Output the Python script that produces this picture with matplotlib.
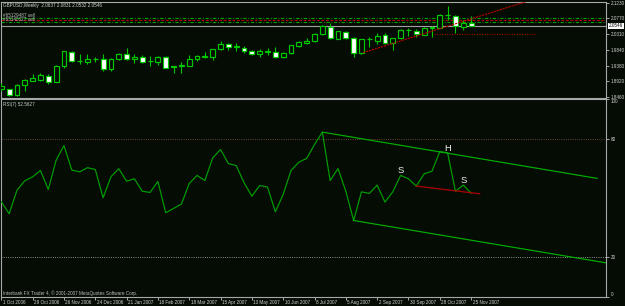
import numpy as np
import matplotlib.pyplot as plt
from matplotlib import transforms as mtransforms

plt.rcParams['font.family'] = ['Liberation Sans', 'DejaVu Sans']

# weekly GBPUSD bars, 1 Oct 2006 .. 25 Nov 2007
opens = [1.8695, 1.8687, 1.8528, 1.8804, 1.8939, 1.8968, 1.9086, 1.8910, 1.9379, 1.9791,
         1.9509, 1.9497, 1.9567, 1.9585, 1.9274, 1.9567, 1.9723, 1.9585, 1.9626, 1.9509,
         1.9497, 1.9626, 1.9362, 1.9371, 1.9379, 1.9567, 1.9626, 1.9626, 1.9860, 2.0008,
         1.9938, 1.9908, 1.9811, 1.9723, 1.9791, 1.9791, 1.9644, 1.9744, 1.9967, 2.0055,
         2.0096, 2.0302, 2.0525, 2.0172, 2.0378, 2.0184, 1.9744, 2.0155, 2.0113, 2.0272,
         2.0037, 2.0184, 2.0419, 2.0399, 2.0290, 2.0478, 2.0496, 2.0860, 2.0839, 2.0507,
         2.0637]
highs = [1.8871, 1.8704, 1.8833, 1.8980, 1.9127, 1.9156, 1.9136, 1.9409, 1.9820, 1.9820,
         1.9714, 1.9723, 1.9644, 1.9723, 1.9591, 1.9744, 1.9899, 1.9723, 1.9694, 1.9656,
         1.9650, 1.9664, 1.9379, 1.9479, 1.9703, 1.9694, 1.9791, 1.9884, 2.0105, 2.0037,
         2.0037, 1.9958, 1.9840, 1.9870, 1.9890, 1.9938, 1.9782, 1.9996, 2.0105, 2.0184,
         2.0331, 2.0575, 2.0625, 2.0413, 2.0399, 2.0213, 2.0172, 2.0231, 2.0331, 2.0331,
         2.0202, 2.0449, 2.0478, 2.0449, 2.0507, 2.0554, 2.0889, 2.1133, 2.0854, 2.0736,
         2.0831]
lows = [1.8636, 1.8489, 1.8489, 1.8645, 1.8930, 1.8939, 1.8833, 1.8892, 1.9303, 1.9488,
        1.9420, 1.9420, 1.9488, 1.9233, 1.9233, 1.9547, 1.9547, 1.9450, 1.9450, 1.9379,
        1.9400, 1.9303, 1.9156, 1.9174, 1.9371, 1.9526, 1.9605, 1.9547, 1.9840, 1.9840,
        1.9811, 1.9761, 1.9694, 1.9644, 1.9694, 1.9597, 1.9614, 1.9723, 1.9920, 2.0017,
        2.0067, 2.0272, 2.0164, 2.0155, 2.0164, 1.9626, 1.9723, 1.9938, 2.0017, 2.0008,
        1.9840, 2.0155, 2.0252, 2.0231, 2.0272, 2.0231, 2.0478, 2.0722, 2.0331, 2.0428,
        2.0532]
closes = [1.8783, 1.8528, 1.8812, 1.8959, 1.9009, 1.9097, 1.8910, 1.9379, 1.9802, 1.9517,
          1.9503, 1.9576, 1.9570, 1.9274, 1.9567, 1.9714, 1.9585, 1.9635, 1.9497, 1.9512,
          1.9626, 1.9321, 1.9335, 1.9409, 1.9576, 1.9664, 1.9664, 1.9860, 2.0008, 1.9929,
          1.9944, 1.9811, 1.9723, 1.9811, 1.9797, 1.9644, 1.9761, 1.9979, 2.0075, 2.0105,
          2.0311, 2.0537, 2.0202, 2.0399, 2.0184, 1.9761, 2.0155, 2.0160, 2.0252, 2.0037,
          2.0184, 2.0428, 2.0425, 2.0311, 2.0478, 2.0525, 2.0868, 2.0855, 2.0531, 2.0634,
          2.0546]
rsi = [48.2, 42.1, 54.0, 58.8, 60.8, 64.0, 54.4, 69.2, 76.6, 64.2,
       63.3, 65.4, 64.5, 50.2, 60.8, 64.9, 58.6, 59.8, 53.5, 52.9,
       58.4, 42.6, 44.8, 47.0, 57.4, 61.5, 58.9, 70.4, 74.6, 67.5,
       66.5, 57.8, 51.0, 56.4, 55.6, 43.1, 51.9, 64.0, 68.2, 70.1,
       77.1, 83.4, 58.9, 65.0, 53.5, 38.7, 53.2, 52.4, 56.6, 48.0,
       53.2, 61.5, 59.8, 56.1, 62.3, 63.6, 73.5, 73.0, 53.5, 56.6,
       52.5627]

date_labels = ['1 Oct 2006', '29 Oct 2006', '26 Nov 2006', '24 Dec 2006', '21 Jan 2007',
               '18 Feb 2007', '18 Mar 2007', '15 Apr 2007', '13 May 2007', '10 Jun 2007',
               '8 Jul 2007', '5 Aug 2007', '2 Sep 2007', '30 Sep 2007', '28 Oct 2007',
               '25 Nov 2007']
price_ticks = [2.1230, 2.0770, 2.0310, 1.9840, 1.9380, 1.8920, 1.8460]
rsi_ticks = [0, 20, 80, 100]

# objects drawn on the chart
order_green = [2.0772, 2.0663]
order_red = [2.0722]
price_trend_x = [46.2, 67.3]
price_trend_y = [1.9761, 2.1280]
level_x = [55.2, 68.2]
level_y = 2.0311
rsi_top_x = [41.0, 76.1]
rsi_top_y = [83.4, 60.0]
rsi_low_x = [45.0, 77.2]
rsi_low_y = [38.7, 17.3]
rsi_red_x = [53.0, 61.1]
rsi_red_y = [56.1, 52.2]
hs_marks = [(51, 'S'), (57, 'H'), (59, 'S')]

BG = '#040c04'
GREEN = '#00c800'
FRAME = '#a8a8a8'
TXT = '#d4d4d4'
FS = 3.3

fig = plt.figure(figsize=(6.25, 3.06), dpi=100, facecolor=BG)
W, H = 625.0, 306.0
ax1 = fig.add_axes([1.0 / W, (H - 98.0) / H, 605.0 / W, 96.3 / H], facecolor=BG)
ax2 = fig.add_axes([1.0 / W, (H - 297.0) / H, 605.0 / W, 197.7 / H], facecolor=BG)

x = np.arange(len(opens))
o = np.array(opens)
c = np.array(closes)
up = c >= o

# candles
ax1.vlines(x, lows, highs, color=GREEN, lw=0.8, zorder=3)
ax1.bar(x, np.maximum(np.abs(c - o), 0.0002), bottom=np.minimum(o, c), width=0.62,
        color=[BG if u else 'white' for u in up], edgecolor=GREEN, lw=0.85, zorder=4)

# order lines, bid line
for p in order_green:
    ax1.axhline(p, color='#00a000', lw=0.8, ls=(0, (3, 1.5, 0.8, 1.5)), zorder=2)
for p in order_red:
    ax1.axhline(p, color='#b00000', lw=0.8, ls=(0, (2.5, 1.5)), zorder=2)
ax1.axhline(closes[-1], color='#a0a0a0', lw=0.8, zorder=2)
ax1.plot(price_trend_x, price_trend_y, color='#c00000', lw=0.8, ls=(0, (2, 0.8)), zorder=5)
ax1.hlines(level_y, level_x[0], level_x[1], color='#a00000', lw=0.9, ls=(0, (0.8, 1.2)), zorder=2)

ax1.set_xlim(-0.04, 77.23)
ax1.set_ylim(1.8431, 2.1259)
ax1.yaxis.tick_right()
ax1.set_yticks(price_ticks, [f'{v:.4f}' for v in price_ticks])
ax1.tick_params(axis='x', bottom=False, labelbottom=False)
ax1.tick_params(axis='y', colors=FRAME, labelcolor=TXT, labelsize=FS, length=2, width=0.7, pad=1.5)

ax1.annotate(f'{closes[-1]:.4f}', xy=(1, closes[-1]), xycoords=('axes fraction', 'data'),
             xytext=(2.2, 0), textcoords='offset points', ha='left', va='center',
             fontsize=FS, color='black',
             bbox=dict(boxstyle='square,pad=0.15', fc='white', ec='none'))

ax1.text(0.003, 0.965, f'GBPUSD,Weekly  {opens[-1]:.4f} {highs[-1]:.4f} {lows[-1]:.4f} {closes[-1]:.4f}',
         transform=ax1.transAxes, fontsize=FS, color=TXT, va='center')
ax1.text(0.003, 0.86, '#65129487 sell', transform=ax1.transAxes, fontsize=FS, color='#b8b8b8', va='center')
ax1.text(0.003, 0.815, '#65140327 sell', transform=ax1.transAxes, fontsize=FS, color='#b8b8b8', va='center')

# RSI pane
ax2.plot(x, rsi, color='#00a000', lw=0.85, zorder=4)
ax2.axhline(80, color='#704434', lw=0.8, ls=(0, (0.8, 1.2)), zorder=2)
ax2.axhline(20, color='#b0b0b0', lw=0.7, ls=(0, (0.8, 1.5)), zorder=2)
ax2.plot(rsi_top_x, rsi_top_y, color='#00b000', lw=0.85, zorder=5)
ax2.plot(rsi_low_x, rsi_low_y, color='#00b000', lw=0.85, zorder=5)
ax2.plot(rsi_red_x, rsi_red_y, color='#b00000', lw=0.9, zorder=5)
for k, s in hs_marks:
    ax2.annotate(s, xy=(k, rsi[k]), xytext=(0, 3.2), textcoords='offset points',
                 ha='center', va='center', fontsize=6.8, color='#f0f0f0', zorder=6)

ax2.set_xlim(-0.04, 77.23)
ax2.set_ylim(0, 100)
ax2.yaxis.tick_right()
ax2.set_yticks(rsi_ticks, [str(v) for v in rsi_ticks])
ax2.set_xticks(np.arange(0, len(opens), 4), date_labels)
ax2.tick_params(axis='y', colors=FRAME, labelcolor=TXT, labelsize=FS, length=2, width=0.7, pad=1.5)
ax2.tick_params(axis='x', colors=FRAME, labelcolor=TXT, labelsize=FS, length=2, width=0.7, pad=0.4)
shift = mtransforms.ScaledTranslation(1.5 / 100, 0, fig.dpi_scale_trans)
for lbl in ax2.get_xticklabels():
    lbl.set_horizontalalignment('left')
    lbl.set_transform(lbl.get_transform() + shift)
ylbls = ax2.get_yticklabels()
ylbls[0].set_verticalalignment('bottom')
ylbls[-1].set_verticalalignment('top')

ax2.text(0.003, 0.975, f'RSI(7) {rsi[-1]:.4f}',
         transform=ax2.transAxes, fontsize=FS, color=TXT, va='center')
ax2.text(0.003, 0.018, 'Interbank FX Trader 4, \u00a9 2001-2007 MetaQuotes Software Corp.',
         transform=ax2.transAxes, fontsize=FS, color='#c0c0c0', va='center')

for ax in (ax1, ax2):
    for sp in ax.spines.values():
        sp.set_color(FRAME)
        sp.set_linewidth(0.8)

fig.savefig('out.png', dpi=100, facecolor=BG)
